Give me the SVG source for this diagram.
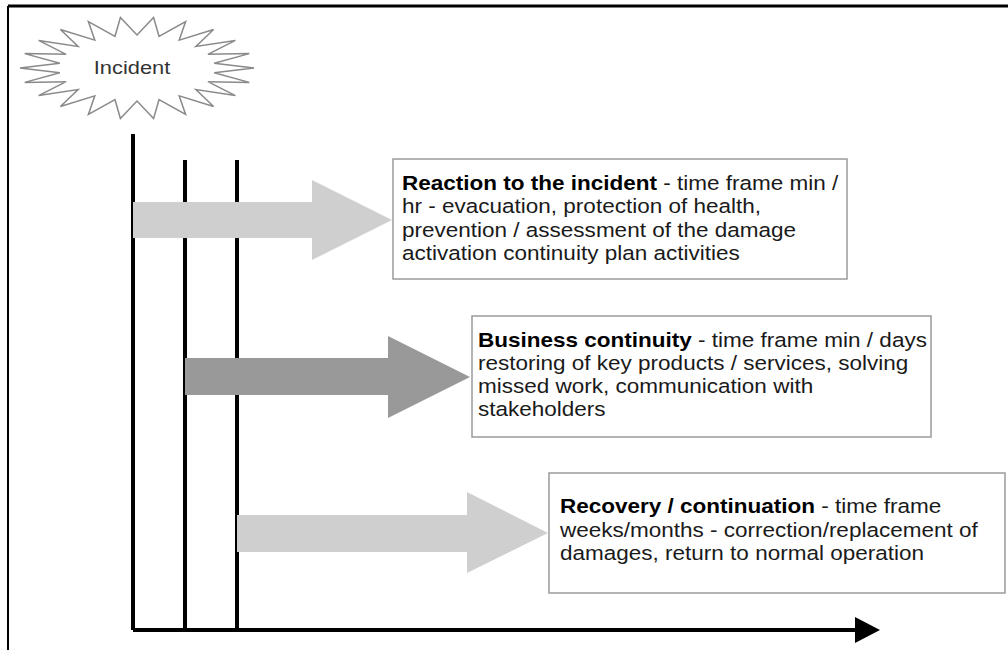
<svg xmlns="http://www.w3.org/2000/svg" width="1008" height="650" viewBox="0 0 1008 650">
<style>
.frame{stroke:#000;fill:none}
.tl{stroke:#000;stroke-width:4;fill:none}
.box{fill:#fff;stroke:#9a9a9a;stroke-width:1.5}
.t{font-family:"Liberation Sans",Arial,sans-serif;font-size:19.5px;fill:#1a1a1a}
.b{font-weight:bold;fill:#000}
.light{fill:#cfcfcf}
.dark{fill:#999}
</style>
<rect width="1008" height="650" fill="#fff"/>
<line class="frame" x1="8" y1="6" x2="1008" y2="6" stroke-width="3"/>
<line class="frame" x1="8" y1="6" x2="8" y2="650" stroke-width="2"/>
<g id="incident">
<polygon points="254,68 214.2,72.7 249.3,82.4 207.9,81.7 235.4,95.6 195.9,89.6 213.6,106.5 179.2,95.8 185.6,114.4 159,99.7 153.6,118.5 137,101 120.4,118.5 115,99.7 88.4,114.4 94.8,95.8 60.4,106.5 78.1,89.6 38.6,95.6 66.1,81.7 24.7,82.4 59.8,72.7 20,68 59.8,63.3 24.7,53.6 66.1,54.3 38.6,40.4 78.1,46.4 60.4,29.5 94.8,40.2 88.4,21.6 115,36.3 120.4,17.5 137,35 153.6,17.5 159,36.3 185.6,21.6 179.2,40.2 213.6,29.5 195.9,46.4 235.4,40.4 207.9,54.3 249.3,53.6 214.2,63.3" fill="#fff" stroke="#8a8a8a" stroke-width="1.5" stroke-linejoin="miter"/>
<text transform="translate(132,0) scale(1.15,1)" x="0" y="74" text-anchor="middle" style="font-family:'Liberation Sans',Arial,sans-serif;font-size:19px;fill:#333">Incident</text>
</g>
<g id="connectors">
<line class="tl" x1="133" y1="134" x2="133" y2="630"/>
<line class="tl" x1="185" y1="160" x2="185" y2="630"/>
<line class="tl" x1="237" y1="160" x2="237" y2="630"/>
<polyline class="tl" points="133,630 860,630"/>
<polygon points="855,617 880,630 855,643" fill="#000"/>
</g>
<g id="arrow1"><polygon class="light" points="133,202 312,202 312,180 392,220 312,260 312,238 133,238"/></g>
<g id="arrow2"><polygon class="dark" points="185,358 388,358 388,336 470,377 388,418 388,395 185,395"/></g>
<g id="arrow3"><polygon class="light" points="237,515 467,515 467,492 548,533 467,573 467,552 237,552"/></g>
<g id="box1">
<rect class="box" x="393" y="159" width="454" height="120"/>
<g transform="translate(402,0) scale(1.155,1)">
<text class="t" x="0" y="190"><tspan class="b">Reaction to the incident</tspan> - time frame min /</text>
<text class="t" x="0" y="213">hr - evacuation, protection of health,</text>
<text class="t" x="0" y="237">prevention / assessment of the damage</text>
<text class="t" x="0" y="260">activation continuity plan activities</text>
</g>
</g>
<g id="box2">
<rect class="box" x="472" y="316" width="459" height="121"/>
<g transform="translate(478,0) scale(1.155,1)">
<text class="t" x="0" y="347"><tspan class="b">Business continuity</tspan> - time frame min / days</text>
<text class="t" x="0" y="370">restoring of key products / services, solving</text>
<text class="t" x="0" y="393">missed work, communication with</text>
<text class="t" x="0" y="416">stakeholders</text>
</g>
</g>
<g id="box3">
<rect class="box" x="549" y="473" width="456" height="120"/>
<g transform="translate(560,0) scale(1.155,1)">
<text class="t" x="0" y="513"><tspan class="b">Recovery / continuation</tspan> - time frame</text>
<text class="t" x="0" y="537">weeks/months - correction/replacement of</text>
<text class="t" x="0" y="560">damages, return to normal operation</text>
</g>
</g>
</svg>
